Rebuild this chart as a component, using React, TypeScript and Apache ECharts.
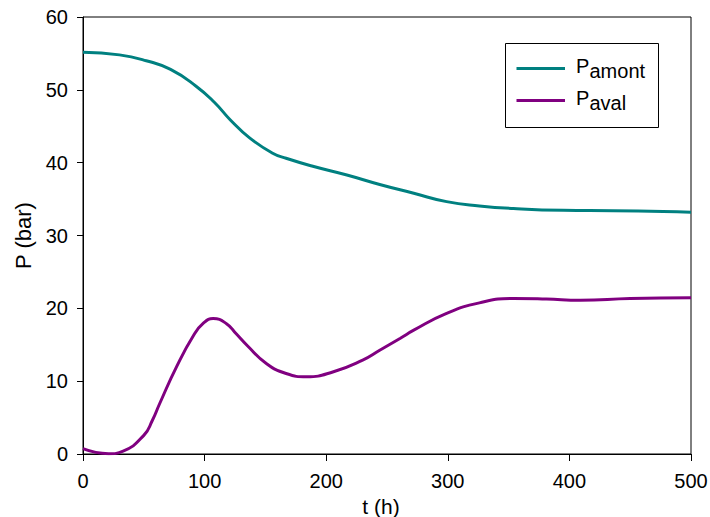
import React, { useEffect, useRef } from "react";
import * as echarts from "echarts";

const tAmont = [0, 30, 52, 72, 93, 108, 121, 137, 156, 167, 189, 217, 244, 272, 299, 326, 354, 395, 436, 477, 500];
const pAmont = [55.15, 54.8, 54.0, 52.8, 50.5, 48.3, 45.9, 43.4, 41.3, 40.6, 39.5, 38.3, 37.0, 35.8, 34.65, 34.06, 33.7, 33.45, 33.4, 33.3, 33.2];

const tAval = [0, 21, 33, 50, 57, 63, 77, 91, 99, 107, 118, 126, 135, 151, 167, 184, 206, 230, 244, 261, 272, 299, 326, 354, 381, 409, 450, 500];
const pAval = [0.73, 0.04, 0.4, 2.56, 4.6, 6.9, 12.0, 16.3, 17.96, 18.6, 17.9, 16.5, 14.9, 12.4, 11.05, 10.6, 11.3, 12.9, 14.25, 15.9, 17.0, 19.3, 20.75, 21.35, 21.27, 21.1, 21.35, 21.45];

const seriesNames = ["amont", "aval"];
const seriesColors = ["#008080", "#800080"];

export default function App() {
  const ref = useRef<HTMLDivElement>(null);
  useEffect(() => {
    if (!ref.current) return;
    const chart = echarts.init(ref.current, null, { renderer: "svg" });
    const font = "'Liberation Sans', Arial, sans-serif";
    const mk = (ts: number[], ps: number[]) => ts.map((t, i) => [t, ps[i]]);

    const legendEls: any[] = [
      {
        type: "rect",
        shape: { x: 505.5, y: 43.5, width: 153, height: 84 },
        style: { fill: "#fff", stroke: "#000", lineWidth: 1 },
        z: 100,
      },
    ];
    seriesNames.forEach((n, i) => {
      const yLine = 68.5 + i * 32;
      legendEls.push({
        type: "line",
        shape: { x1: 516.5, y1: yLine, x2: 565, y2: yLine },
        style: { stroke: seriesColors[i], lineWidth: 3 },
        z: 101,
      });
      legendEls.push({
        type: "text",
        x: 576,
        y: yLine - 2.5,
        style: {
          text: "P",
          font: `20px ${font}`,
          fill: "#000",
          align: "left",
          verticalAlign: "middle",
        },
        z: 101,
      });
      legendEls.push({
        type: "text",
        x: 589.5,
        y: yLine + 2.5,
        style: {
          text: n,
          font: `20px ${font}`,
          fill: "#000",
          align: "left",
          verticalAlign: "middle",
        },
        z: 101,
      });
    });

    chart.setOption({
      animation: false,
      textStyle: { fontFamily: font },
      grid: {
        left: 83, top: 17, right: 19, bottom: 63,
        containLabel: false,
        outerBoundsMode: "none",
        show: true, borderColor: "#000", borderWidth: 1,
      },
      graphic: legendEls,
      xAxis: {
        type: "value", min: 0, max: 500, interval: 100,
        name: "t (h)", nameLocation: "middle", nameGap: 29,
        nameTextStyle: { fontSize: 21, color: "#000", fontFamily: font, padding: [0, 12, 0, 0] },
        axisLine: { show: true, lineStyle: { color: "#000" } },
        axisTick: { show: true, inside: false, length: 7, lineStyle: { color: "#000" } },
        axisLabel: { fontSize: 20, color: "#000", margin: 17, fontFamily: font },
        splitLine: { show: false },
      },
      yAxis: {
        type: "value", min: 0, max: 60, interval: 10,
        name: "P (bar)", nameLocation: "middle", nameGap: 45, nameRotate: 90,
        nameTextStyle: { fontSize: 22, color: "#000", fontFamily: font },
        axisLine: { show: true, lineStyle: { color: "#000" } },
        axisTick: { show: true, inside: false, length: 6, lineStyle: { color: "#000" } },
        axisLabel: { fontSize: 20, color: "#000", margin: 15, fontFamily: font },
        splitLine: { show: false },
      },
      series: [
        {
          name: seriesNames[0], type: "line", smooth: 0.5, showSymbol: false,
          data: mk(tAmont, pAmont), color: seriesColors[0],
          lineStyle: { width: 3, color: seriesColors[0] },
        },
        {
          name: seriesNames[1], type: "line", smooth: 0.5, showSymbol: false,
          data: mk(tAval, pAval), color: seriesColors[1],
          lineStyle: { width: 3, color: seriesColors[1] },
        },
      ],
    });
    return () => chart.dispose();
  }, []);
  return (
    <div
      ref={ref}
      style={{ position: "absolute", left: 0, top: 0, width: 710, height: 517, background: "#fff" }}
    />
  );
}
